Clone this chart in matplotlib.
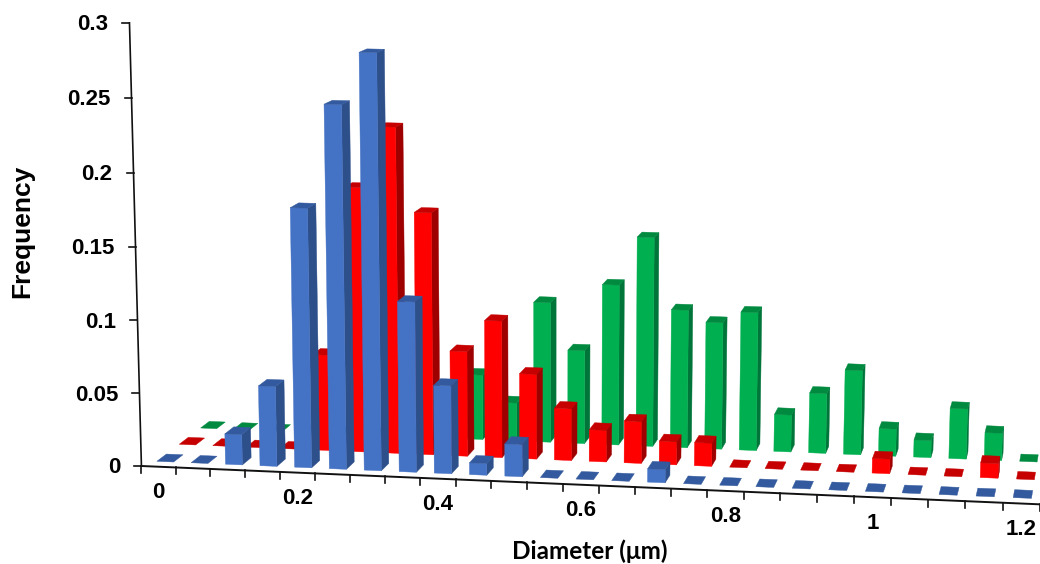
import numpy as np
import matplotlib
matplotlib.use("Agg")
import matplotlib.pyplot as plt

# ---- data ----
diameters = [round(0.05 * i, 2) for i in range(25)]
freq_blue = [0, 0, .021, .055, .177, .247, .282, .116, .060, .008, .022, 0, 0, 0, .009,
             0, 0, 0, 0, 0, 0, 0, 0, 0, 0]
freq_red = [0, 0, 0, 0, .067, .184, .226, .168, .073, .095, .059, .036, .022, .029, .016,
            .016, 0, 0, 0, 0, .010, 0, 0, .010, 0]
freq_green = [0, 0, 0, 0, 0, 0, 0, 0, .046, .027, .099, .066, .113, .147, .097,
              .089, .097, .026, .042, .059, .019, .012, .035, .019, 0]
y_ticks = [0, .05, .1, .15, .2, .25, .3]
y_labels = ["0", "0.05", "0.1", "0.15", "0.2", "0.25", "0.3"]
x_labels = {0: "0", 4: "0.2", 8: "0.4", 12: "0.6", 16: "0.8", 20: "1", 24: "1.2"}

# ---- perspective camera of the 3-D chart (u = bin, w = series depth, z = value) ----
src = [(0.5, 0), (24.5, 0), (0.5, 2), (24.5, 2)]
dst = [(170, 458), (1023, 494), (213, 425), (1029, 458)]
A, b = [], []
for (u, w), (x, y) in zip(src, dst):
    A.append([u, w, 1, 0, 0, 0, -u * x, -w * x]); b.append(x)
    A.append([0, 0, 0, u, w, 1, -u * y, -w * y]); b.append(y)
H = np.append(np.linalg.solve(np.array(A, float), np.array(b, float)), 1).reshape(3, 3)


def base(u, w):
    p = H @ np.array([u, w, 1.0])
    return p[0] / p[2], p[1] / p[2], p[2]


D0 = base(0, -0.5)[2]
Z_A, Z_B = 1446.0, 104.0
XC, LEAN = 550.0, 6.6e-5


def proj(u, w, z=0.0):
    x, y, d = base(u, w)
    h = (Z_A * z + Z_B * z * z) * D0 / d
    return x + (x - XC) * LEAN * h, y - h


series = [
    (freq_green, 2, "#00B050", "#00753A", "#008A3F"),
    (freq_red, 1, "#FF0000", "#9E0000", "#C60000"),
    (freq_blue, 0, "#4472C4", "#2D4F8A", "#335A9E"),
]
BAR_U, BAR_W = 0.245, 0.21

fig = plt.figure(figsize=(10.4, 5.64), dpi=100)
ax = fig.add_axes([0, 0, 1, 1])
ax.set_xlim(0, 1040)
ax.set_ylim(564, 0)
ax.axis("off")
FONT = ["Liberation Sans", "DejaVu Sans"]


def poly(pts, c, z):
    xs, ys = zip(*pts)
    ax.fill(xs, ys, color=c, lw=0.3, zorder=z)


z = 3.0
for vals, w, front, side, top in series:
    for i, v in enumerate(vals):
        c = i + 0.5
        u0, u1, w0, w1 = c - BAR_U, c + BAR_U, w - BAR_W, w + BAR_W
        if v > 0:
            poly([proj(u1, w0), proj(u1, w1), proj(u1, w1, v), proj(u1, w0, v)], side, z)
            poly([proj(u0, w0), proj(u1, w0), proj(u1, w0, v), proj(u0, w0, v)], front, z)
        poly([proj(u0, w0, v), proj(u1, w0, v), proj(u1, w1, v), proj(u0, w1, v)], top, z)
    z += 1

# ---- axes ----
W_AX = -0.5
AX_C = "#111111"
ax.plot(*zip(proj(0, W_AX), proj(25, W_AX)), color=AX_C, lw=1.4, zorder=10)
ax.plot(*zip(proj(0, W_AX), proj(0, W_AX, 0.3)), color=AX_C, lw=1.2, zorder=10)
for i in range(26):
    x, y = proj(i, W_AX)
    ax.plot([x, x], [y, y + 7], color=AX_C, lw=1.2, zorder=10)
for t, lab in zip(y_ticks, y_labels):
    x, y = proj(0, W_AX, t)
    ax.plot([x - 7, x], [y, y], color=AX_C, lw=1.2, zorder=10)
    ax.text(x - 21, y + 2, lab, ha="right", va="center", fontsize=16,
            fontweight="bold", family=FONT, color="black")
for i, lab in x_labels.items():
    x, y = proj(i + 0.5, W_AX)
    ax.text(x, y + 26, lab, ha="center", va="center", fontsize=16,
            fontweight="bold", family=FONT, color="black")
ax.text(590, 551, "Diameter (\u03bcm)", ha="center", va="center", fontsize=17.5,
        fontweight="bold", family=["Lato", "DejaVu Sans"], color="black")
ax.text(22.5, 231, "Frequency", rotation=90, ha="center", va="center", fontsize=19,
        fontweight="bold", family=FONT, color="black")

fig.savefig("out.png", dpi=100, facecolor="white")
